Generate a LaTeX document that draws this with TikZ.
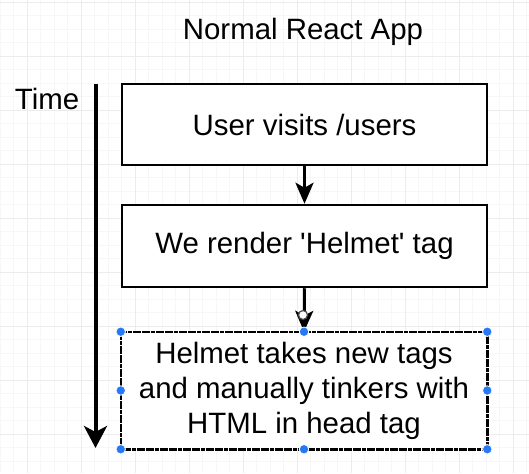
\documentclass[tikz,border=0pt]{standalone}
\usepackage{fontspec}
\setmainfont{Liberation Sans}
\usetikzlibrary{arrows.meta}
\definecolor{gridminor}{RGB}{247,247,247}
\definecolor{gridmajor}{RGB}{236,236,236}
\definecolor{handleblue}{RGB}{38,120,245}
\tikzset{
  stepbox/.style={draw=black, line width=2.5pt, fill=white, inner sep=0pt,
    minimum width=365pt, align=center, font=\fontsize{29.4}{35}\selectfont},
  flowarrow/.style={line width=3pt, -{Stealth[length=21pt, width=18pt, inset=5pt]}},
  timearrow/.style={line width=4pt, -{Stealth[length=22pt, width=23pt, inset=6pt]}},
  handle/.style={circle, fill=handleblue, draw=white, line width=0.8pt, inner sep=0pt, minimum size=9.5pt},
  label/.style={font=\fontsize{29.4}{35}\selectfont, inner sep=0pt}
}
\begin{document}
\begin{tikzpicture}[x=1pt, y=-1pt]
\useasboundingbox (0,0) rectangle (529,473);
\fill[white] (0,0) rectangle (529,473);
% grid
\foreach \i in {0,...,39} {
  \draw[gridminor, line width=0.7pt] ({13.5*\i},0) -- ({13.5*\i},473);
}
\foreach \j in {0,...,35} {
  \draw[gridminor, line width=0.7pt] (0,{2+13.5*\j}) -- (529,{2+13.5*\j});
}
\foreach \i in {0,...,9} {
  \draw[gridmajor, line width=0.8pt] ({27+54*\i},0) -- ({27+54*\i},473);
}
\foreach \j in {0,...,8} {
  \draw[gridmajor, line width=0.8pt] (0,{2+54*\j}) -- (529,{2+54*\j});
}
% title and time label
\node[label] (title) at (303,32) {Normal React App};
\node[label] (time) at (47,99) {Time};
% boxes
\node[stepbox, minimum height=81pt] (b1) at (304.5,124.5) {User visits /users};
\node[stepbox, minimum height=82pt] (b2) at (304.5,246) {We render \textquotesingle Helmet\textquotesingle{} tag};
\node[stepbox, minimum height=115pt, minimum width=364pt, draw=none] (b3) at (304,390.5)
  {Helmet takes new tags\\and manually tinkers with\\HTML in head tag};
\draw[line width=2.5pt, dash pattern=on 4pt off 0.6pt, black] (b3.north west) rectangle (b3.south east);
% time arrow
\coordinate (tstart) at (95.5,84);
\coordinate (tend) at (95.5,448);
\draw[timearrow] (tstart) -- (tend);
% flow arrows
\draw[flowarrow] (b1.south) -- (b2.north);
\draw[flowarrow] (b2.south) -- (b3.north);
\node[circle, draw=black!70, fill=white, line width=1.2pt, inner sep=0pt, minimum size=9pt] (hover) at (303,315) {};
% selection handles
\foreach \a in {north west, north, north east, west, east, south west, south, south east} {
  \node[handle] at (b3.\a) {};
}
\end{tikzpicture}
\end{document}
